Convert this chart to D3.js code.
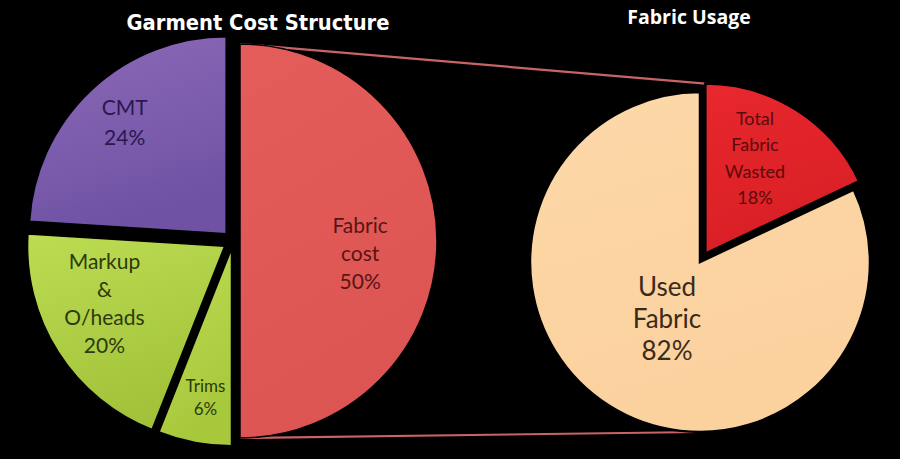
<!DOCTYPE html>
<html>
<head>
<meta charset="utf-8">
<script src="https://cdn.jsdelivr.net/npm/d3@7/dist/d3.min.js"></script>
<style>
  html, body { margin: 0; padding: 0; background: #000; }
  svg { display: block; }
</style>
</head>
<body>
<svg id="chart" width="900" height="459"></svg>
<script>
// ---------- DATA ----------
const costCategories = ["Fabric cost", "Trims", "Markup & O/heads", "CMT"];
const costValues = [50, 6, 20, 24];
const costLabelLines = [["Fabric", "cost", "50%"], ["Trims", "6%"], ["Markup", "&", "O/heads", "20%"], ["CMT", "24%"]];

const usageCategories = ["Total Fabric Wasted", "Used Fabric"];
const usageValues = [18, 82];
const usageLabelLines = [["Total", "Fabric", "Wasted", "18%"], ["Used", "Fabric", "82%"]];

const titles = ["Garment Cost Structure", "Fabric Usage"];

// ---------- STYLE ----------
const costColors = [["#e55d5a", "#dc5553"], ["#bddc52", "#a8c83c"], ["#bcdc52", "#a2c23a"], ["#8d69b8", "#6f52a4"]];
const costTextColors = ["#5a1414", "#2c3a0c", "#2c3a0c", "#2a1850"];
const costExplode = [7, 8, 10, 10];
const costFont = [21, 17, 21, 21];
const costLabelR = [0.62, 0.76, 0.68, 0.79];
const costLabelNudge = [[-2, 13], [2, 2], [-7, -14], [5, 2]];
const costLineH = [28, 23, 28, 30];

const usageColors = [["#e8282e", "#d81f25"], ["#fdd8a8", "#fbd19e"]];
const usageTextColors = ["#5a0a0a", "#3a2a1a"];
const usageExplode = [10, 0];
const usageFont = [18, 26];
const usageLabelR = [0.6, 0.45];
const usageLabelNudge = [[-5, -9], [8, -8]];
const usageLineH = [26.5, 32];

const svg = d3.select("#chart");
const W = 900, H = 459;
svg.append("rect").attr("width", W).attr("height", H).attr("fill", "#000");

const defs = svg.append("defs");
function grad(id, c) {
  const g = defs.append("linearGradient").attr("id", id)
    .attr("x1", 0).attr("y1", 0).attr("x2", 0.3).attr("y2", 1);
  g.append("stop").attr("offset", "0%").attr("stop-color", c[0]);
  g.append("stop").attr("offset", "100%").attr("stop-color", c[1]);
}
costColors.forEach((c, i) => grad("cg" + i, c));
usageColors.forEach((c, i) => grad("ug" + i, c));

// ---------- GEOMETRY ----------
const leftC = [233, 241], leftR = 197;
const rightC = [700, 262], rightR = 170;

const pie = d3.pie().sort(null).value(d => d).startAngle(0).endAngle(2 * Math.PI);
const costArcs = pie(costValues);
const usageArcs = pie(usageValues);

const leftArc = d3.arc().innerRadius(0).outerRadius(leftR);
const rightArc = d3.arc().innerRadius(0).outerRadius(rightR);

function offset(a, d) {
  const m = (a.startAngle + a.endAngle) / 2;
  return [Math.sin(m) * d, -Math.cos(m) * d];
}

// connector lines (behind pies)
const fabricOff = offset(costArcs[0], costExplode[0]);
const fabricCenter = [leftC[0] + fabricOff[0], leftC[1] + fabricOff[1]];
const wastedOff = offset(usageArcs[0], usageExplode[0]);
const wastedCenter = [rightC[0] + wastedOff[0], rightC[1] + wastedOff[1]];
const usedCenter = rightC;

const pt = (c, r, ang) => [c[0] + Math.sin(ang) * r, c[1] - Math.cos(ang) * r];
const conn = [
  [pt(fabricCenter, leftR, costArcs[0].startAngle), pt(wastedCenter, rightR, usageArcs[0].startAngle)],
  [pt(fabricCenter, leftR, costArcs[0].endAngle), pt(usedCenter, rightR, Math.PI)]
];
svg.append("g").selectAll("line").data(conn).join("line")
  .attr("x1", d => d[0][0]).attr("y1", d => d[0][1])
  .attr("x2", d => d[1][0]).attr("y2", d => d[1][1])
  .attr("stroke", "#c86466").attr("stroke-width", 2.2);

function drawLabels(sel, R, lbl, fonts, lr, nudge, lh, colors) {
  sel.each(function (d, i) {
    const m = (d.startAngle + d.endAngle) / 2;
    const r = R * lr[i];
    const x = Math.sin(m) * r + nudge[i][0];
    const y = -Math.cos(m) * r + nudge[i][1];
    const lines = lbl[i];
    const t = d3.select(this).append("text")
      .attr("text-anchor", "middle")
      .attr("font-family", "Lato, 'Open Sans', sans-serif")
      .attr("font-size", fonts[i])
      .attr("fill", colors[i]);
    lines.forEach((s, k) => {
      t.append("tspan").attr("x", x)
        .attr("y", y + (k - (lines.length - 1) / 2) * lh[i])
        .attr("dy", "0.35em").text(s);
    });
  });
}

// ---------- LEFT PIE ----------
const gl = svg.append("g").attr("transform", `translate(${leftC[0]},${leftC[1]})`);
const slicesL = gl.selectAll("g.slice").data(costArcs).join("g")
  .attr("class", "slice")
  .attr("transform", (d, i) => { const o = offset(d, costExplode[i]); return `translate(${o[0]},${o[1]})`; });
slicesL.append("path").attr("d", leftArc)
  .attr("fill", (d, i) => `url(#cg${i})`)
  .attr("stroke", "#000").attr("stroke-width", 1.5);
drawLabels(slicesL, leftR, costLabelLines, costFont, costLabelR, costLabelNudge, costLineH, costTextColors);

// ---------- RIGHT PIE ----------
const gr = svg.append("g").attr("transform", `translate(${rightC[0]},${rightC[1]})`);
const slicesR = gr.selectAll("g.slice").data(usageArcs).join("g")
  .attr("class", "slice")
  .attr("transform", (d, i) => { const o = offset(d, usageExplode[i]); return `translate(${o[0]},${o[1]})`; });
slicesR.append("path").attr("d", rightArc)
  .attr("fill", (d, i) => `url(#ug${i})`)
  .attr("stroke", "#000").attr("stroke-width", 2.5);
drawLabels(slicesR, rightR, usageLabelLines, usageFont, usageLabelR, usageLabelNudge, usageLineH, usageTextColors);

// ---------- TITLES ----------
svg.append("text").attr("x", 258).attr("y", 30)
  .attr("text-anchor", "middle")
  .attr("font-family", "'DejaVu Sans', sans-serif").attr("font-weight", "bold")
  .attr("font-size", 21).attr("textLength", 263).attr("lengthAdjust", "spacingAndGlyphs")
  .attr("fill", "#fff").text(titles[0]);
svg.append("text").attr("x", 689).attr("y", 24)
  .attr("text-anchor", "middle")
  .attr("font-family", "'Open Sans', sans-serif").attr("font-weight", "bold")
  .attr("font-size", 19.5).attr("fill", "#fff").text(titles[1]);
</script>
</body>
</html>
